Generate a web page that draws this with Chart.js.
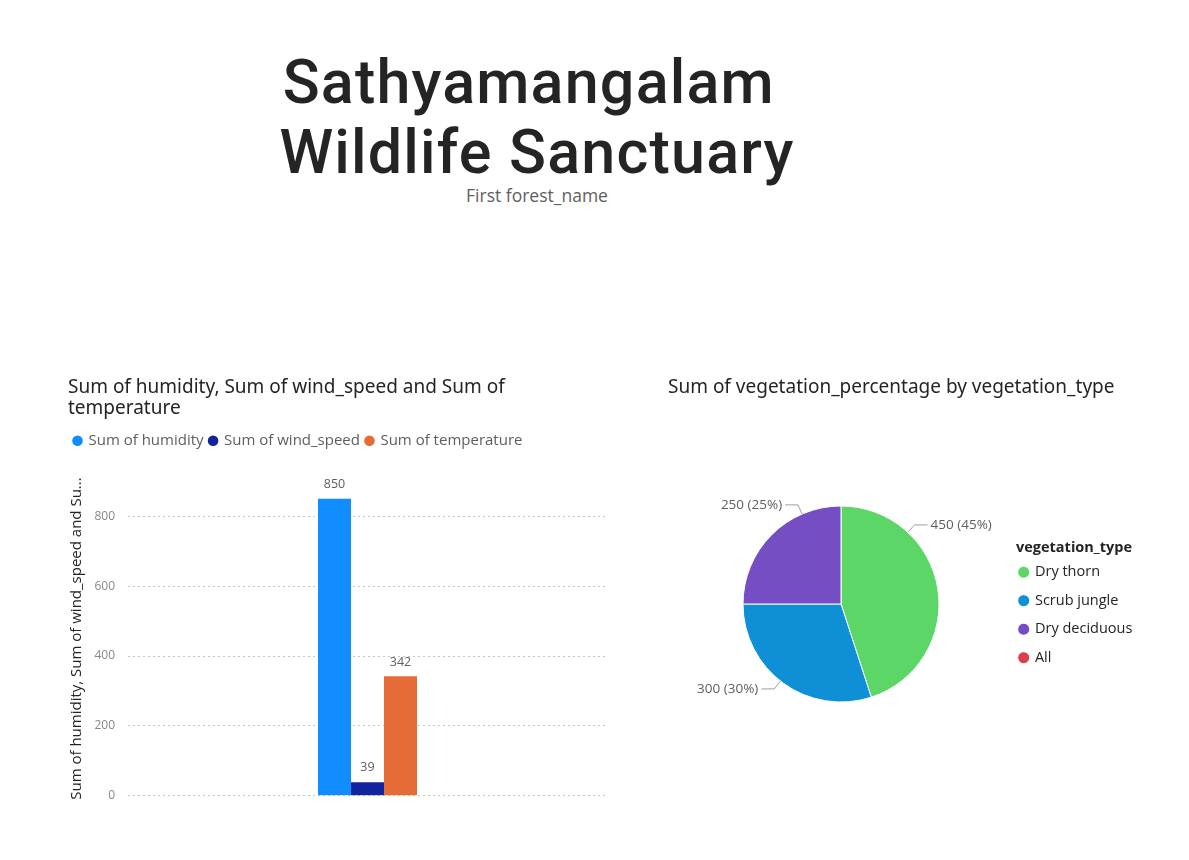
<!DOCTYPE html>
<html>
<head>
<meta charset="utf-8">
<script src="https://cdn.jsdelivr.net/npm/chart.js@4"></script>
<style>
  html, body { margin:0; padding:0; background:#ffffff; }
  body { width:1189px; height:860px; position:relative; overflow:hidden; }
  #card { position:absolute; left:237px; top:47px; width:600px; text-align:center; }
  #cardTitle { font-family: Roboto, "DejaVu Sans", sans-serif; font-size:61px; line-height:70px; letter-spacing:1.2px; font-weight:500; color:#252423; }
  #cardSub { font-family: "Open Sans", sans-serif; font-size:17.5px; color:#605E5C; margin-top:-4px; }
  #barWrap { position:absolute; left:60px; top:370px; width:560px; height:446px; }
  #pieWrap { position:absolute; left:660px; top:370px; width:490px; height:360px; }
</style>
</head>
<body>
<div id="card">
  <div id="cardTitle">Sathyamangalam&nbsp;<br>Wildlife Sanctuary</div>
  <div id="cardSub">First forest_name</div>
</div>
<div id="barWrap"><canvas id="bar" width="560" height="446"></canvas></div>
<div id="pieWrap"><canvas id="pie" width="490" height="360"></canvas></div>
<script>
// ---- data ----
const barCategories = [''];
const humidity = [850];
const windSpeed = [39];
const temperature = [342];
const yTickValues = [0, 200, 400, 600, 800];

const vegetationTypes = ['Dry thorn', 'Scrub jungle', 'Dry deciduous', 'All'];
const vegetationPercentage = [450, 300, 250, 0];

// ---- styles ----
const TXT = '#252423';
const GRAY = '#605E5C';
const titleFont = { family: '"Noto Sans", "Open Sans", sans-serif', size: 19, weight: 'normal', lineHeight: 1.1 };

// bar value labels
const barLabels = {
  id: 'barLabels',
  afterDatasetsDraw(chart) {
    const ctx = chart.ctx;
    ctx.save();
    ctx.fillStyle = GRAY;
    ctx.font = '12.5px "Open Sans", sans-serif';
    ctx.textAlign = 'center';
    ctx.textBaseline = 'bottom';
    chart.data.datasets.forEach((ds, i) => {
      chart.getDatasetMeta(i).data.forEach((el, j) => {
        ctx.fillText(String(ds.data[j]), el.x, el.y - 8);
      });
    });
    ctx.restore();
  }
};

// extra space under legend
const legendGap = {
  id: 'legendGap',
  beforeInit(chart, args, opts) {
    const orig = chart.legend.fit;
    chart.legend.fit = function () { orig.call(this); this.height += opts.extra || 0; };
  }
};

new Chart(document.getElementById('bar'), {
  type: 'bar',
  data: {
    labels: barCategories,
    datasets: [
      { label: 'Sum of humidity', data: humidity, backgroundColor: '#118DFF' },
      { label: 'Sum of wind_speed', data: windSpeed, backgroundColor: '#12239E' },
      { label: 'Sum of temperature', data: temperature, backgroundColor: '#E66C37' }
    ]
  },
  options: {
    responsive: false,
    animation: false,
    layout: { padding: { left: 8, right: 13, top: 0, bottom: 9 } },
    datasets: { bar: { categoryPercentage: 0.2067, barPercentage: 1 } },
    plugins: {
      tooltip: { enabled: false },
      legendGap: { extra: 23 },
      title: {
        display: true,
        text: ['Sum of humidity, Sum of wind_speed and Sum of', 'temperature'],
        align: 'start',
        color: TXT,
        font: titleFont,
        padding: { top: 7.5, bottom: 8 }
      },
      legend: {
        display: true,
        align: 'start',
        labels: {
          usePointStyle: true,
          pointStyle: 'circle',
          boxWidth: 7,
          boxHeight: 7.5,
          padding: 6,
          color: GRAY,
          font: { family: '"Open Sans", sans-serif', size: 15 }
        }
      }
    },
    scales: {
      x: { display: false },
      y: {
        min: 0,
        max: 900,
        afterBuildTicks(scale) { scale.ticks = yTickValues.map(v => ({ value: v })); },
        afterFit(scale) { scale.width = 60; },
        border: { display: false, dash: [2, 3] },
        grid: { color: '#C8C6C4', lineWidth: 1, drawTicks: false },
        ticks: { color: '#8A8886', padding: 13, font: { family: '"Open Sans", sans-serif', size: 12 } },
        title: {
          display: true,
          text: 'Sum of humidity, Sum of wind_speed and Su...',
          color: TXT,
          padding: { top: 0, bottom: 0 },
          font: { family: '"Open Sans", sans-serif', size: 15 }
        }
      }
    }
  },
  plugins: [barLabels, legendGap]
});

// pie outside labels with leader lines
const pieLabels = {
  id: 'pieLabels',
  afterDatasetsDraw(chart, args, opts) {
    const ctx = chart.ctx;
    const meta = chart.getDatasetMeta(0);
    const data = chart.data.datasets[0].data;
    const total = data.reduce((a, b) => a + b, 0);
    ctx.save();
    ctx.font = '13.5px "Open Sans", sans-serif';
    ctx.fillStyle = GRAY;
    ctx.strokeStyle = '#A19F9D';
    ctx.lineWidth = 1;
    ctx.textBaseline = 'middle';
    meta.data.forEach((arc, i) => {
      if (!data[i]) return;
      const frac = opts.anchor[i];
      const a = arc.startAngle + (arc.endAngle - arc.startAngle) * frac;
      const r = arc.outerRadius;
      const x0 = arc.x + Math.cos(a) * r, y0 = arc.y + Math.sin(a) * r;
      const x1 = arc.x + Math.cos(a) * (r + 10), y1 = arc.y + Math.sin(a) * (r + 10);
      const right = Math.cos(a) >= 0;
      const x2 = x1 + (right ? 13 : -13);
      ctx.beginPath(); ctx.moveTo(x0, y0); ctx.lineTo(x1, y1); ctx.lineTo(x2, y1); ctx.stroke();
      ctx.textAlign = right ? 'left' : 'right';
      const txt = data[i] + ' (' + Math.round(data[i] / total * 100) + '%)';
      ctx.fillText(txt, x2 + (right ? 3 : -3), y1);
    });
    ctx.restore();
  }
};

// place the pie plot area and the legend box
const pieLayout = {
  id: 'pieLayout',
  afterLayout(chart, args, opts) {
    const ca = chart.chartArea;
    ca.left = opts.cx - opts.r; ca.right = opts.cx + opts.r;
    ca.top = opts.cy - opts.r; ca.bottom = opts.cy + opts.r;
    ca.width = ca.right - ca.left; ca.height = ca.bottom - ca.top;
    const lg = chart.legend;
    const w = lg.width, h = lg.height;
    lg.left = opts.legendX; lg.right = opts.legendX + w;
    lg.top = opts.legendY; lg.bottom = opts.legendY + h;
  }
};

new Chart(document.getElementById('pie'), {
  type: 'pie',
  data: {
    labels: vegetationTypes,
    datasets: [{
      data: vegetationPercentage,
      backgroundColor: ['#5BD667', '#0E8FD6', '#744EC2', '#D9404F'],
      borderColor: '#ffffff',
      borderWidth: 1
    }]
  },
  options: {
    responsive: false,
    animation: false,
    layout: { padding: { left: 8, right: 14, top: 0, bottom: 23 } },
    plugins: {
      tooltip: { enabled: false },
      pieLayout: { cx: 181, cy: 234, r: 98.5, legendX: 345.7, legendY: 170.8 },
      pieLabels: { anchor: [0.265, 0.52, 0.74, 0.5] },
      title: {
        display: true,
        text: 'Sum of vegetation_percentage by vegetation_type',
        align: 'start',
        color: TXT,
        font: titleFont,
        padding: { top: 7.5, bottom: 20 }
      },
      legend: {
        display: true,
        position: 'right',
        align: 'start',
        title: {
          display: true,
          text: 'vegetation_type',
          color: TXT,
          position: 'center',
          padding: { top: 0, bottom: 0 },
          font: { family: '"Open Sans", sans-serif', size: 14.5, weight: 'bold', lineHeight: 0.7 }
        },
        labels: {
          usePointStyle: true,
          pointStyle: 'circle',
          boxWidth: 8,
          boxHeight: 8.5,
          padding: 14,
          color: TXT,
          font: { family: '"Open Sans", sans-serif', size: 14.5 }
        }
      }
    }
  },
  plugins: [pieLabels, pieLayout]
});
</script>
</body>
</html>
